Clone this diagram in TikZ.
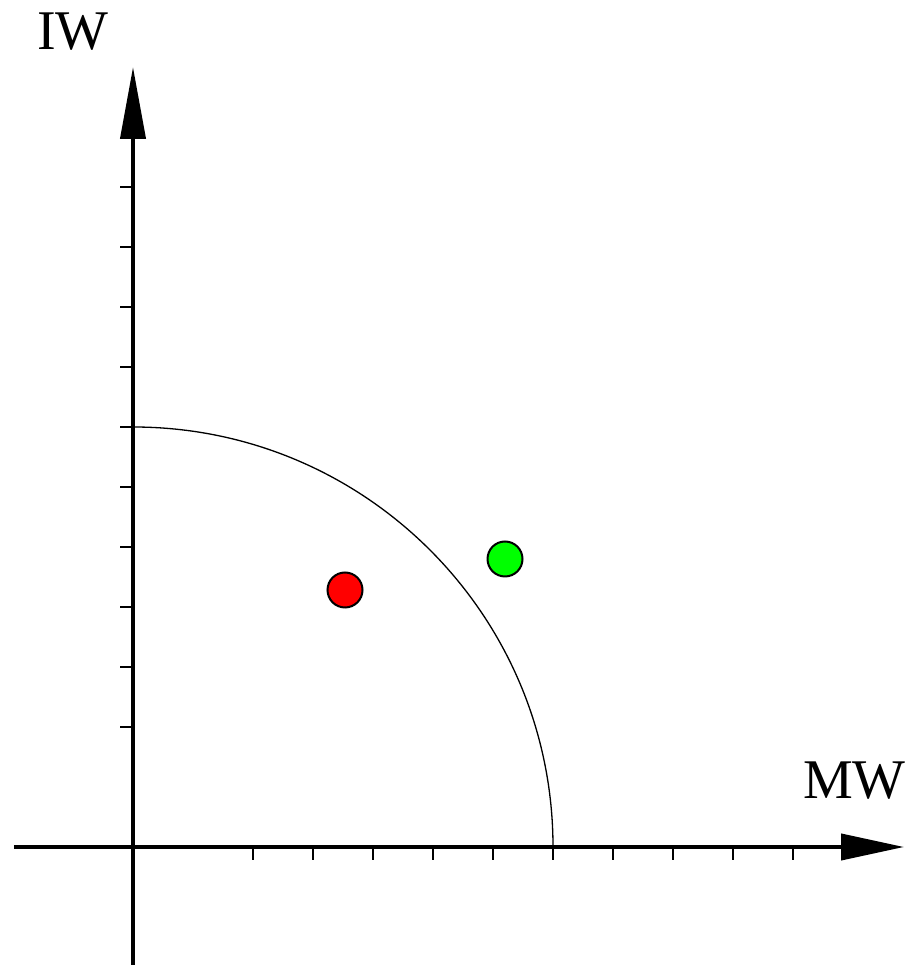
\documentclass[tikz,border=0pt]{standalone}
\usepackage{fontspec}
\setmainfont{Liberation Serif}
\usetikzlibrary{arrows.meta}
\begin{document}
\begin{tikzpicture}[x=1pt,y=1pt,
  axisx/.style={line width=4pt,-{Triangle[length=63pt,width=26pt]}},
  axisy/.style={line width=4pt,-{Triangle[length=72pt,width=25pt]}},
  tickx/.style={line width=2pt},
  lbl/.style={inner sep=0pt,anchor=base west,font=\fontsize{56}{60}\selectfont},
  dot/.style={circle,draw=black,line width=2pt,minimum size=35pt,inner sep=0pt}]
\useasboundingbox (-133,-118) rectangle (771,847);
\fill[white] (-133,-118) rectangle (771,847);
% axes
\coordinate (xs) at (-119,0);
\coordinate (xe) at (771,0);
\coordinate (ys) at (0,-120);
\coordinate (ye) at (0,780);
\draw[axisx] (xs) -- (xe);
\draw[axisy] (ys) -- (ye);
% ticks
\foreach \i in {2,...,11} {
  \draw[tickx] (\i*60,0) -- (\i*60,-13);
  \draw[tickx] (0,\i*60) -- (-13,\i*60);
}
% arc
\draw[line width=1.3pt] (0,420) arc[start angle=90,end angle=0,radius=420];
% dots
\node[dot,fill=red] (r) at (212,257) {};
\node[dot,fill=green] (g) at (372,288) {};
% labels
\node[lbl] (iw) at (-96,797) {IW};
\node[lbl] (mw) at (670,48) {MW};
\end{tikzpicture}
\end{document}
